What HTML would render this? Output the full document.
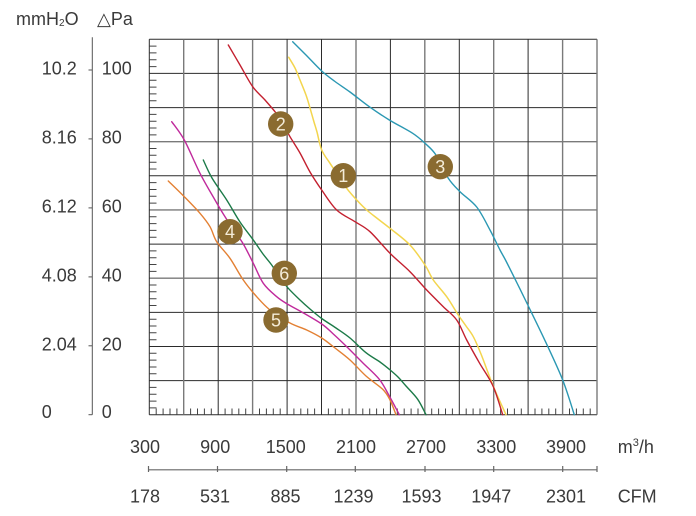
<!DOCTYPE html>
<html><head><meta charset="utf-8"><style>
html,body{margin:0;padding:0;background:#fff;}
svg{display:block;}
text{font-family:"Liberation Sans","DejaVu Sans",sans-serif;fill:#3a3a3a;}
</style></head><body>
<svg id="chart" width="696" height="516" viewBox="0 0 696 516" xmlns="http://www.w3.org/2000/svg">
<rect width="696" height="516" fill="#fff"/>
<!-- header -->
<text x="16" y="25" font-size="18">mmH<tspan font-size="10" dy="1">2</tspan><tspan dy="-1">O</tspan></text>
<text x="97" y="25" font-size="18">△Pa</text>

<!-- left axis -->
<g stroke="#555" stroke-width="1">
<line x1="92.3" y1="37.3" x2="92.3" y2="414.7"/>
<line x1="88.5" y1="70" x2="92.3" y2="70"/>
<line x1="88.5" y1="138.9" x2="92.3" y2="138.9"/>
<line x1="88.5" y1="207.9" x2="92.3" y2="207.9"/>
<line x1="88.5" y1="276.9" x2="92.3" y2="276.9"/>
<line x1="88.5" y1="345.8" x2="92.3" y2="345.8"/>
<line x1="88.5" y1="414.7" x2="92.3" y2="414.7"/>
</g>
<g font-size="18">
<text x="41.7" y="74.5">10.2</text><text x="101.7" y="74.5">100</text>
<text x="41.7" y="143.4">8.16</text><text x="101.7" y="143.4">80</text>
<text x="41.7" y="212.4">6.12</text><text x="101.7" y="212.4">60</text>
<text x="41.7" y="281.4">4.08</text><text x="101.7" y="281.4">40</text>
<text x="41.7" y="350.3">2.04</text><text x="101.7" y="350.3">20</text>
<text x="41.7" y="418">0</text><text x="101.7" y="418">0</text>
</g>

<!-- grid -->
<g fill="none">
<g stroke="#2b2b2b" stroke-width="1">
<line x1="149.3" y1="39.3" x2="597" y2="39.3"/>
<line x1="149.3" y1="73.4" x2="597" y2="73.4"/>
<line x1="149.3" y1="107.6" x2="597" y2="107.6"/>
<line x1="149.3" y1="175.8" x2="597" y2="175.8"/>
<line x1="149.3" y1="244.1" x2="597" y2="244.1"/>
<line x1="149.3" y1="312.4" x2="597" y2="312.4"/>
<line x1="149.3" y1="346.5" x2="597" y2="346.5"/>
<line x1="149.3" y1="380.6" x2="597" y2="380.6"/>
<line x1="149.3" y1="414.7" x2="597" y2="414.7"/>
</g>
<g stroke="#7a7a7a" stroke-width="1.4">
<line x1="149.3" y1="141.7" x2="597" y2="141.7"/>
<line x1="149.3" y1="209.9" x2="597" y2="209.9"/>
<line x1="149.3" y1="278.2" x2="597" y2="278.2"/>
</g>
<g stroke="#2b2b2b" stroke-width="1">
<line x1="149.3" y1="39.3" x2="149.3" y2="414.7"/>
<line x1="218.2" y1="39.3" x2="218.2" y2="414.7"/>
<line x1="287.1" y1="39.3" x2="287.1" y2="414.7"/>
<line x1="321.5" y1="39.3" x2="321.5" y2="414.7"/>
<line x1="390.4" y1="39.3" x2="390.4" y2="414.7"/>
<line x1="459.3" y1="39.3" x2="459.3" y2="414.7"/>
<line x1="528.1" y1="39.3" x2="528.1" y2="414.7"/>
</g>
<g stroke="#7a7a7a" stroke-width="1.4">
<line x1="183.7" y1="39.3" x2="183.7" y2="414.7"/>
<line x1="252.6" y1="39.3" x2="252.6" y2="414.7"/>
<line x1="356" y1="39.3" x2="356" y2="414.7"/>
<line x1="424.8" y1="39.3" x2="424.8" y2="414.7"/>
<line x1="493.7" y1="39.3" x2="493.7" y2="414.7"/>
<line x1="562.6" y1="39.3" x2="562.6" y2="414.7"/>
<line x1="597" y1="39.3" x2="597" y2="414.7"/>
</g>
</g>
<!-- minor ticks left -->
<g stroke="#444" stroke-width="1">
<path d="M149.3 46.1h7.2M149.3 52.9h7.2M149.3 59.8h7.2M149.3 66.6h7.2
M149.3 80.2h7.2M149.3 87.1h7.2M149.3 93.9h7.2M149.3 100.7h7.2
M149.3 114.4h7.2M149.3 121.2h7.2M149.3 128h7.2M149.3 134.9h7.2
M149.3 148.5h7.2M149.3 155.3h7.2M149.3 162.2h7.2M149.3 169h7.2
M149.3 182.6h7.2M149.3 189.5h7.2M149.3 196.3h7.2M149.3 203.1h7.2
M149.3 216.7h7.2M149.3 223.6h7.2M149.3 230.4h7.2M149.3 237.2h7.2
M149.3 250.9h7.2M149.3 257.7h7.2M149.3 264.5h7.2M149.3 271.4h7.2
M149.3 285h7.2M149.3 291.8h7.2M149.3 298.7h7.2M149.3 305.5h7.2
M149.3 319.2h7.2M149.3 326h7.2M149.3 332.8h7.2M149.3 339.7h7.2
M149.3 353.3h7.2M149.3 360.1h7.2M149.3 367h7.2M149.3 373.8h7.2
M149.3 387.4h7.2M149.3 394.3h7.2M149.3 401.1h7.2M149.3 407.9h7.2"/>
</g>
<!-- minor ticks bottom -->
<g stroke="#444" stroke-width="1">
<path d="
M156.2 408.5v6.2M163.1 408.5v6.2M170 408.5v6.2M176.9 408.5v6.2
M190.6 408.5v6.2M197.5 408.5v6.2M204.4 408.5v6.2M211.3 408.5v6.2
M225.1 408.5v6.2M232 408.5v6.2M238.8 408.5v6.2M245.7 408.5v6.2
M259.5 408.5v6.2M266.4 408.5v6.2M273.3 408.5v6.2M280.2 408.5v6.2
M293.9 408.5v6.2M300.8 408.5v6.2M307.7 408.5v6.2M314.6 408.5v6.2
M328.4 408.5v6.2M335.3 408.5v6.2M342.2 408.5v6.2M349.1 408.5v6.2
M362.8 408.5v6.2M369.7 408.5v6.2M376.6 408.5v6.2M383.5 408.5v6.2
M397.3 408.5v6.2M404.2 408.5v6.2M411.1 408.5v6.2M418 408.5v6.2
M431.7 408.5v6.2M438.6 408.5v6.2M445.5 408.5v6.2M452.4 408.5v6.2
M466.2 408.5v6.2M473.1 408.5v6.2M480 408.5v6.2M486.8 408.5v6.2
M500.6 408.5v6.2M507.5 408.5v6.2M514.4 408.5v6.2M521.3 408.5v6.2
M535 408.5v6.2M541.9 408.5v6.2M548.8 408.5v6.2M555.7 408.5v6.2
M569.5 408.5v6.2M576.4 408.5v6.2M583.3 408.5v6.2M590.2 408.5v6.2"/>
</g>

<!-- curves -->
<g id="curves" fill="none" stroke-width="1.4" stroke-linejoin="round" stroke-linecap="round">
<polyline stroke="#2b98b3" points="292.7,41.7 306,55 321.7,71 335,81.5 350,92 369.3,106.7 389.3,120 412.7,133.3 425,143.3 436,155 448.3,178.3 460,191.7 476.7,207 490,230 500,250 506,261 517,283 528.3,306 546,342.7 562.7,380 574.3,414.7"/>
<polyline stroke="#f3d54e" stroke-width="1.5" points="288.7,57.3 295,68 300,80 306,95 310,108 314,122 317,132 321.7,150 330,163.3 338,175 346.7,188.3 356.7,200 366.7,210 378,219 390,228.3 410,245 425,265 433.3,280 446.7,296.7 458.3,315 466,326 473.3,336.7 481,354 489.3,376 496,392.7 506,414.7"/>
<polyline stroke="#c3202f" points="228.3,45 240,65 252.7,86.7 265,100 276,113 283,124 290,136.7 300,153 310,172 321.7,190 336.7,210 355,221.7 370,231.7 390,253.3 410,271.7 426.7,290 443.3,306.7 456.7,320 466.7,340 479.3,362.7 493,386 502.7,414.7"/>
<polyline stroke="#1c7a48" points="203.3,160 212,178 226.7,200 240,222 253.3,240 263,254 271.7,265 280,278 288.3,288.3 300,300 310,309 321.7,318.5 336,328 350,338 366,352.7 380,362 389.3,369.3 398,377 406,386 417.7,399.3 426,414.7"/>
<polyline stroke="#c02a9c" points="171.7,121.7 184.3,140 200,173.3 215,200 223.3,214 233,229 243.3,244 253.3,263.3 263.3,283.3 276.7,296.7 287.3,304 300,311 321.7,324 333.3,334 346,346 362.7,362.7 379.3,379.3 389.3,396 399.3,414.7"/>
<polyline stroke="#e38033" points="168.3,181 184.3,196.7 200,213.3 210,226.7 216.7,241.7 230,258.3 243.3,280 256.7,296.7 270,310 290,323 306.7,330 321.7,338 335,348 350,360 366,376 382.7,389.3 390,400 396,414.7"/>
</g>

<!-- circle labels -->
<g fill="#8a6b30">
<circle cx="343.3" cy="175.7" r="12.7"/>
<circle cx="280.7" cy="124" r="12.7"/>
<circle cx="440.3" cy="166.7" r="12.7"/>
<circle cx="230" cy="231.7" r="12.7"/>
<circle cx="276" cy="320" r="12.7"/>
<circle cx="284.3" cy="273.3" r="12.7"/>
</g>
<g font-size="18" text-anchor="middle">
<text x="343.3" y="182.2" style="fill:#f4ecd8">1</text>
<text x="280.7" y="130.5" style="fill:#f4ecd8">2</text>
<text x="440.3" y="173.2" style="fill:#f4ecd8">3</text>
<text x="230" y="238.2" style="fill:#f4ecd8">4</text>
<text x="276" y="326.5" style="fill:#f4ecd8">5</text>
<text x="284.3" y="279.8" style="fill:#f4ecd8">6</text>
</g>

<!-- x axis labels -->
<g font-size="18" text-anchor="middle">
<text x="145" y="453">300</text>
<text x="215.2" y="453">900</text>
<text x="285.8" y="453">1500</text>
<text x="356" y="453">2100</text>
<text x="426" y="453">2700</text>
<text x="496.3" y="453">3300</text>
<text x="566" y="453">3900</text>
</g>
<text x="617.7" y="453" font-size="18">m<tspan font-size="11" dy="-7">3</tspan><tspan dy="7">/h</tspan></text>

<!-- CFM axis -->
<g stroke="#666" stroke-width="1.2">
<line x1="148.5" y1="469.8" x2="597" y2="469.8"/>
<path d="M148.5 466v6M217.5 466v6M286.7 466v6M355.3 466v6M425 466v6M493.7 466v6M562.7 466v6M597 466v6"/>
</g>
<g font-size="18" text-anchor="middle">
<text x="145" y="502.5">178</text>
<text x="215" y="502.5">531</text>
<text x="285.5" y="502.5">885</text>
<text x="353.5" y="502.5">1239</text>
<text x="421.5" y="502.5">1593</text>
<text x="491.3" y="502.5">1947</text>
<text x="566" y="502.5">2301</text>
</g>
<text x="617.7" y="502.5" font-size="18">CFM</text>
</svg>
<script>
(function(){
  var ns="http://www.w3.org/2000/svg";
  var g=document.getElementById("curves");
  var pls=Array.prototype.slice.call(g.getElementsByTagName("polyline"));
  pls.forEach(function(pl){
    var pts=pl.getAttribute("points").trim().split(/\s+/).map(function(s){var a=s.split(",");return [parseFloat(a[0]),parseFloat(a[1])];});
    var d="M"+pts[0][0]+" "+pts[0][1];
    for(var i=0;i<pts.length-1;i++){
      var p0=pts[i-1]||pts[i], p1=pts[i], p2=pts[i+1], p3=pts[i+2]||pts[i+1];
      var c1x=p1[0]+(p2[0]-p0[0])/6, c1y=p1[1]+(p2[1]-p0[1])/6;
      var c2x=p2[0]-(p3[0]-p1[0])/6, c2y=p2[1]-(p3[1]-p1[1])/6;
      d+=" C"+c1x.toFixed(2)+" "+c1y.toFixed(2)+" "+c2x.toFixed(2)+" "+c2y.toFixed(2)+" "+p2[0]+" "+p2[1];
    }
    var p=document.createElementNS(ns,"path");
    p.setAttribute("d",d);
    p.setAttribute("stroke",pl.getAttribute("stroke"));
    if(pl.getAttribute("stroke-width")) p.setAttribute("stroke-width",pl.getAttribute("stroke-width"));
    g.replaceChild(p,pl);
  });
})();
</script>
</body></html>
